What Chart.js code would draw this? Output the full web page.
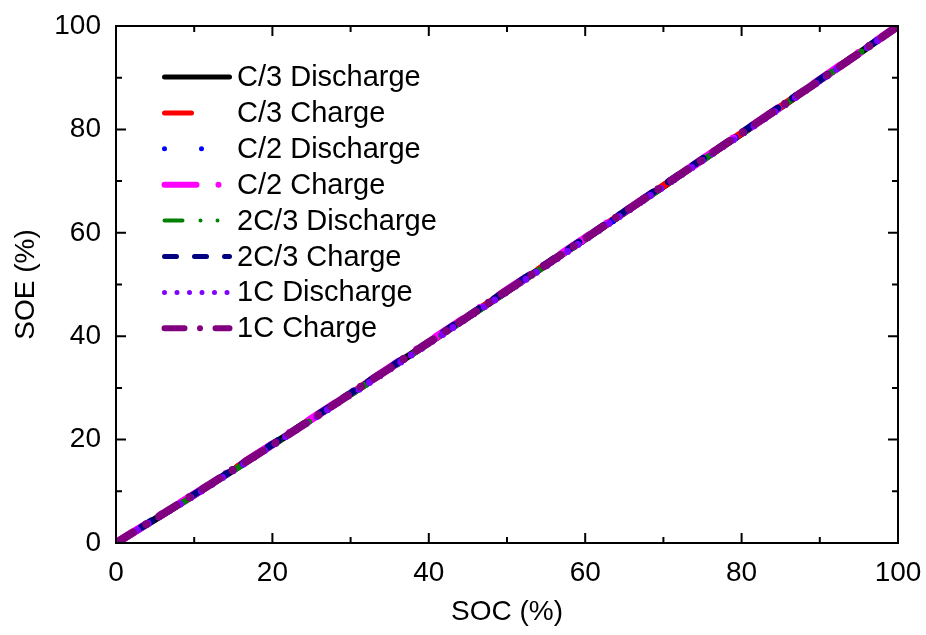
<!DOCTYPE html>
<html>
<head>
<meta charset="utf-8">
<script src="https://cdn.jsdelivr.net/npm/chart.js@4.4.1/dist/chart.umd.min.js"></script>
<style>
  html, body { margin: 0; padding: 0; background: #fff; }
  #wrap { width: 926px; height: 635px; }
</style>
</head>
<body>
<div id="wrap"><canvas id="soe"></canvas></div>
<script>
// state of charge (x) shared by every run
const soc = [0, 5, 10, 15, 20, 25, 30, 35, 40, 45, 50, 55, 60, 65, 70, 75, 80, 85, 90, 95, 100]

// state of energy (y) per run
const c3Discharge = [0, 4.6, 9.3, 14.1, 19.0, 23.9, 28.8, 33.8, 38.7, 43.7, 48.7, 53.8, 58.8, 63.9, 69.0, 74.1, 79.2, 84.3, 89.5, 94.7, 100]
const c3Charge = [0, 4.7, 9.4, 14.2, 19.1, 24.0, 28.9, 33.9, 38.8, 43.8, 48.8, 53.9, 58.9, 64.0, 69.1, 74.2, 79.3, 84.4, 89.6, 94.8, 100]
const c2Discharge = [0, 4.6, 9.3, 14.1, 19.0, 23.9, 28.8, 33.7, 38.7, 43.7, 48.7, 53.7, 58.8, 63.8, 68.9, 74.1, 79.2, 84.3, 89.5, 94.7, 100]
const c2Charge = [0, 4.7, 9.4, 14.2, 19.1, 24.0, 28.9, 33.9, 38.9, 43.9, 48.9, 53.9, 59.0, 64.0, 69.1, 74.2, 79.3, 84.4, 89.6, 94.8, 100]
const c23Discharge = [0, 4.6, 9.2, 14.0, 18.9, 23.8, 28.7, 33.7, 38.6, 43.6, 48.6, 53.7, 58.7, 63.8, 68.9, 74.0, 79.1, 84.3, 89.5, 94.7, 100]
const c23Charge = [0, 4.7, 9.4, 14.2, 19.1, 24.0, 29.0, 33.9, 38.9, 43.9, 48.9, 54.0, 59.0, 64.1, 69.2, 74.3, 79.4, 84.5, 89.6, 94.8, 100]
const c1Discharge = [0, 4.6, 9.2, 14.0, 18.9, 23.8, 28.7, 33.6, 38.6, 43.6, 48.6, 53.6, 58.7, 63.8, 68.9, 74.0, 79.1, 84.2, 89.4, 94.7, 100]
const c1Charge = [0, 4.7, 9.4, 14.2, 19.0, 23.9, 28.9, 33.8, 38.8, 43.8, 48.8, 53.8, 58.9, 64.0, 69.1, 74.2, 79.3, 84.4, 89.5, 94.7, 100]

const seriesNames = ['C/3 Discharge', 'C/3 Charge', 'C/2 Discharge', 'C/2 Charge', '2C/3 Discharge', '2C/3 Charge', '1C Discharge', '1C Charge']
const seriesValues = [c3Discharge, c3Charge, c2Discharge, c2Charge, c23Discharge, c23Charge, c1Discharge, c1Charge]
const axisTicks = [0, 20, 40, 60, 80, 100]

const styles = [
  { color: '#000000', width: 5, dash: [] },
  { color: '#ff0000', width: 5, dash: [27, 45] },
  { color: '#0000ff', width: 5, dash: [0, 37] },
  { color: '#ff00ff', width: 6, dash: [32, 22, 0, 22] },
  { color: '#008000', width: 4, dash: [18, 18, 0, 17, 0, 17] },
  { color: '#000080', width: 5, dash: [12, 18] },
  { color: '#8000ff', width: 5, dash: [0, 12.5] },
  { color: '#800080', width: 6, dash: [20, 15.5, 0, 15.5] }
]

const FONT = 'Liberation Sans, Arial, sans-serif'

// frame with inward ticks on all four sides
const framePlugin = {
  id: 'frame',
  afterDraw (chart) {
    const { ctx, chartArea: a, scales } = chart
    ctx.save()
    ctx.strokeStyle = '#000'
    ctx.lineWidth = 2
    ctx.setLineDash([])
    ctx.lineCap = 'butt'
    ctx.strokeRect(a.left, a.top, a.right - a.left, a.bottom - a.top)
    for (let v = 0; v <= 100; v += 10) {
      const len = v % 20 === 0 ? 10 : 6
      const x = scales.x.getPixelForValue(v)
      const y = scales.y.getPixelForValue(v)
      ctx.beginPath()
      ctx.moveTo(x, a.bottom); ctx.lineTo(x, a.bottom - len)
      ctx.moveTo(x, a.top); ctx.lineTo(x, a.top + len)
      ctx.moveTo(a.left, y); ctx.lineTo(a.left + len, y)
      ctx.moveTo(a.right, y); ctx.lineTo(a.right - len, y)
      ctx.stroke()
    }
    ctx.restore()
  }
}

// legend inside the plot, upper left
const legendPlugin = {
  id: 'insideLegend',
  afterDraw (chart) {
    const { ctx, chartArea: a } = chart
    ctx.save()
    ctx.font = '29px ' + FONT
    ctx.textBaseline = 'middle'
    ctx.fillStyle = '#000'
    seriesNames.forEach((name, i) => {
      const y = a.top + 51 + i * 35.9
      const s = styles[i]
      ctx.strokeStyle = s.color
      ctx.lineWidth = s.width
      ctx.lineCap = 'round'
      ctx.setLineDash(s.dash)
      ctx.beginPath()
      ctx.moveTo(a.left + 48.5, y)
      ctx.lineTo(a.left + 113.5, y)
      ctx.stroke()
      ctx.fillText(name, a.left + 121, y + 1)
    })
    ctx.restore()
  }
}

const datasets = seriesNames.map((name, i) => ({
  label: name,
  data: soc.map((x, j) => ({ x, y: seriesValues[i][j] })),
  borderColor: styles[i].color,
  borderWidth: styles[i].width + 2,
  borderDash: styles[i].dash,
  borderCapStyle: 'round',
  pointRadius: 0,
  fill: false,
  tension: 0,
  order: seriesNames.length - i
}))

// tick labels may hang past the plot edges, like in the original
function noOverhang (scale) {
  scale.paddingTop = 0
  scale.paddingBottom = 0
  scale.paddingLeft = 0
  scale.paddingRight = 0
}

const axisBase = {
  type: 'linear',
  min: 0,
  max: 100,
  grid: { display: false, drawTicks: false },
  border: { display: false },
  afterBuildTicks: (scale) => { scale.ticks = axisTicks.map((v) => ({ value: v })) }
}

new Chart(document.getElementById('soe'), {
  type: 'line',
  data: { datasets },
  options: {
    responsive: true,
    maintainAspectRatio: false,
    animation: { duration: 0 },
    layout: { autoPadding: false, padding: { left: 0, top: 26, right: 28, bottom: 0 } },
    plugins: {
      legend: { display: false },
      tooltip: { enabled: false }
    },
    scales: {
      x: {
        ...axisBase,
        position: 'bottom',
        ticks: { color: '#000', font: { family: FONT, size: 28 }, padding: 13, maxRotation: 0 },
        title: { display: true, text: 'SOC (%)', color: '#000', font: { family: FONT, size: 28 }, padding: { top: 0, bottom: 6 } },
        afterFit: (scale) => { scale.height = 92; noOverhang(scale) }
      },
      y: {
        ...axisBase,
        position: 'left',
        ticks: { color: '#000', font: { family: FONT, size: 28 }, padding: 15 },
        title: { display: true, text: 'SOE (%)', color: '#000', font: { family: FONT, size: 28 }, padding: { top: 9, bottom: 0 } },
        afterFit: (scale) => { scale.width = 116; noOverhang(scale) }
      }
    }
  },
  plugins: [framePlugin, legendPlugin]
})
</script>
</body>
</html>
